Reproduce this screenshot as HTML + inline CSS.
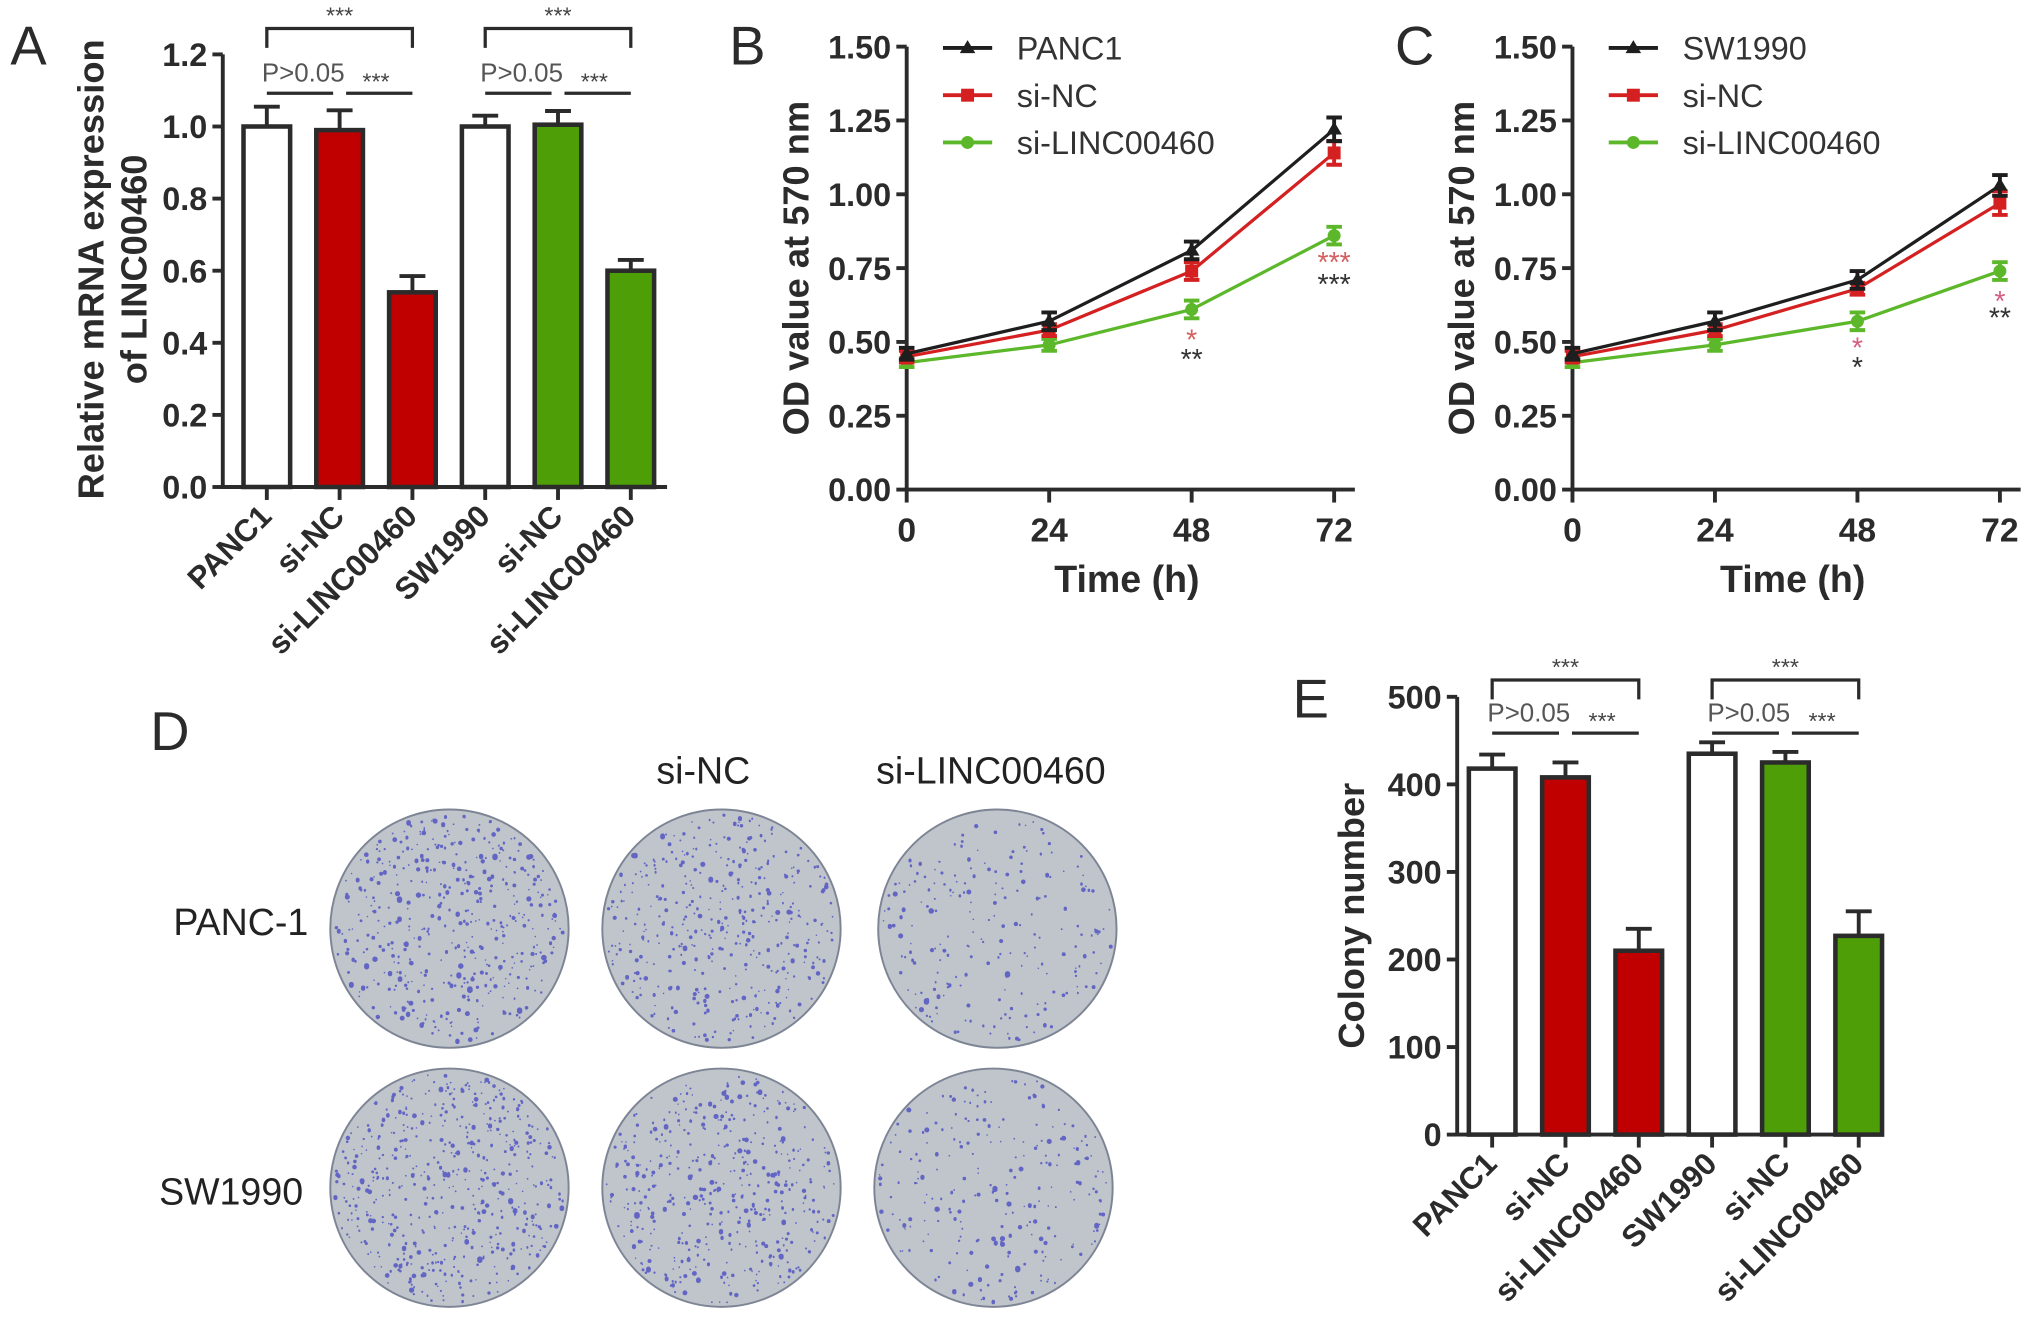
<!DOCTYPE html>
<html><head><meta charset="utf-8"><style>
html,body{margin:0;padding:0;background:#fff}
svg{display:block}
text{font-family:"Liberation Sans",Arial,sans-serif}
</style></head><body>
<svg id="fig" width="2031" height="1336" viewBox="0 0 1568 1031.5" preserveAspectRatio="none" xmlns="http://www.w3.org/2000/svg">
<g id="pA"></g>
<g id="pB"></g>
<g id="pC"></g>
<g id="pD"></g>
<g id="pE"></g>
</svg>
<script>
// ---- data ----
const barCats = ["PANC1","si-NC","si-LINC00460","SW1990","si-NC","si-LINC00460"];
const barFills = ["#ffffff","#c00000","#c00000","#ffffff","#4e9e08","#4e9e08"];
const aValues = [1.0, 0.99, 0.54, 1.0, 1.005, 0.60];
const aErrors = [0.055, 0.055, 0.045, 0.03, 0.038, 0.03];
const aTicks = [0, 0.2, 0.4, 0.6, 0.8, 1.0, 1.2];
const aTickLabels = ["0.0","0.2","0.4","0.6","0.8","1.0","1.2"];
const eValues = [418, 408, 210, 435, 425, 227];
const eErrors = [16, 17, 25, 13, 12, 28];
const eTicks = [0, 100, 200, 300, 400, 500];
const eTickLabels = ["0","100","200","300","400","500"];
const times = [0, 24, 48, 72];
const odTicks = [0, 0.25, 0.5, 0.75, 1.0, 1.25, 1.5];
const odTickLabels = ["0.00","0.25","0.50","0.75","1.00","1.25","1.50"];
const bPanc1 = [0.46, 0.57, 0.81, 1.22];
const bPanc1Err = [0.02, 0.03, 0.03, 0.04];
const bSiNC = [0.45, 0.54, 0.74, 1.14];
const bSiNCErr = [0.02, 0.02, 0.03, 0.04];
const bSiLinc = [0.43, 0.49, 0.61, 0.86];
const bSiLincErr = [0.015, 0.02, 0.03, 0.03];
const cSw1990 = [0.46, 0.57, 0.71, 1.03];
const cSw1990Err = [0.02, 0.03, 0.03, 0.035];
const cSiNC = [0.45, 0.54, 0.68, 0.97];
const cSiNCErr = [0.02, 0.02, 0.02, 0.04];
const cSiLinc = [0.43, 0.49, 0.57, 0.74];
const cSiLincErr = [0.015, 0.02, 0.03, 0.03];

const NS="http://www.w3.org/2000/svg";
const DK="#2b2b2b";
function mk(parent,tag,attrs,txt){const e=document.createElementNS(NS,tag);for(const k in attrs)e.setAttribute(k,attrs[k]);if(txt!==undefined)e.textContent=txt;parent.appendChild(e);return e;}
function scale(d0,d1,r0,r1){return v=>r0+(v-d0)/(d1-d0)*(r1-r0);}

function barChart(g,cfg){
  const y=scale(cfg.ymin,cfg.ymax,cfg.y0,cfg.y1);
  const x=i=>cfg.xc0+i*cfg.step;
  const ya=mk(g,'line',{x1:cfg.ax,y1:y(cfg.ymax),x2:cfg.ax,y2:cfg.y0+1.5,stroke:DK,'stroke-width':3});
  
  cfg.ticks.forEach((t,i)=>{
    mk(g,'line',{x1:cfg.ax-8,y1:y(t),x2:cfg.ax,y2:y(t),stroke:DK,'stroke-width':3});
    const tl=mk(g,'text',{x:cfg.ax-12,y:y(t)+9,'text-anchor':'end','font-size':25,'font-weight':'bold',fill:DK},cfg.labels[i]);
    
  });
  const xa=mk(g,'line',{x1:cfg.ax-1.5,y1:cfg.y0,x2:cfg.axEnd,y2:cfg.y0,stroke:DK,'stroke-width':3});
  
  cfg.values.forEach((v,i)=>{
    const cx=x(i),top=y(v),et=y(v+cfg.errors[i]);
    mk(g,'line',{x1:cx,y1:top,x2:cx,y2:et,stroke:DK,'stroke-width':3});
    mk(g,'line',{x1:cx-10,y1:et,x2:cx+10,y2:et,stroke:DK,'stroke-width':3});
    const r=mk(g,'rect',{x:cx-cfg.bw/2,y:top,width:cfg.bw,height:cfg.y0-top,fill:barFills[i],stroke:DK,'stroke-width':3.5});
    
    mk(g,'line',{x1:cx,y1:cfg.y0,x2:cx,y2:cfg.y0+10,stroke:DK,'stroke-width':3});
    const lx=cx+5,ly=cfg.y0+24;
    const tl=mk(g,'text',{x:lx,y:ly,'text-anchor':'end','font-size':24,'font-weight':'bold',fill:DK,transform:`rotate(-45 ${lx} ${ly})`},barCats[i]);
    
  });
  [0,3].forEach(s=>{
    const a=x(s),b=x(s+1),c=x(s+2);
    mk(g,'path',{d:`M${a} ${cfg.brTop+15}V${cfg.brTop}H${c}V${cfg.brTop+15}`,fill:'none',stroke:DK,'stroke-width':2.5});
    mk(g,'text',{x:(a+c)/2,y:cfg.brTop-4,'text-anchor':'middle','font-size':18,fill:'#444'},'***');
    mk(g,'line',{x1:a,y1:cfg.brLow,x2:b-5,y2:cfg.brLow,stroke:DK,'stroke-width':2.5});
    mk(g,'line',{x1:b+5,y1:cfg.brLow,x2:c,y2:cfg.brLow,stroke:DK,'stroke-width':2.5});
    const p=mk(g,'text',{x:(a+b)/2,y:cfg.brLow-9,'text-anchor':'middle','font-size':20,fill:'#555'},'P>0.05');
    
    mk(g,'text',{x:(b+c)/2,y:cfg.brLow-3,'text-anchor':'middle','font-size':18,fill:'#444'},'***');
  });
}

barChart(document.getElementById('pA'),{ymin:0,ymax:1.2,y0:376,y1:42,ax:172,axEnd:515,xc0:206,step:56.2,bw:36,
  values:aValues,errors:aErrors,ticks:aTicks,labels:aTickLabels,brTop:22,brLow:72});
barChart(document.getElementById('pE'),{ymin:0,ymax:500,y0:876,y1:538,ax:1125,axEnd:1450,xc0:1152,step:56.6,bw:36,
  values:eValues,errors:eErrors,ticks:eTicks,labels:eTickLabels,brTop:525,brLow:566});

(function(){
  const gA=document.getElementById('pA');
  let t=mk(gA,'text',{x:8,y:50,'font-size':42,fill:DK},'A');
  t=mk(gA,'text',{x:0,y:0,'text-anchor':'middle','font-size':28,'font-weight':'bold',fill:DK,transform:'translate(80 208) rotate(-90)'},'Relative mRNA expression');
  
  t=mk(gA,'text',{x:0,y:0,'text-anchor':'middle','font-size':28,'font-weight':'bold',fill:DK,transform:'translate(113 208) rotate(-90)'},'of LINC00460');
  
  const gE=document.getElementById('pE');
  t=mk(gE,'text',{x:998,y:554,'font-size':42,fill:DK},'E');
  t=mk(gE,'text',{x:0,y:0,'text-anchor':'middle','font-size':28,'font-weight':'bold',fill:DK,transform:'translate(1053 707) rotate(-90)'},'Colony number');
  
})();

function lineChart(g,cfg){
  const y=scale(0,1.5,378,36);
  const x=scale(0,72,cfg.ax,cfg.ax+330);
  mk(g,'line',{x1:cfg.ax,y1:36,x2:cfg.ax,y2:379.5,stroke:DK,'stroke-width':3});
  odTicks.forEach((t,i)=>{
    mk(g,'line',{x1:cfg.ax-8,y1:y(t),x2:cfg.ax,y2:y(t),stroke:DK,'stroke-width':3});
    const tl=mk(g,'text',{x:cfg.ax-12,y:y(t)+9,'text-anchor':'end','font-size':25,'font-weight':'bold',fill:DK},odTickLabels[i]);
    
  });
  mk(g,'line',{x1:cfg.ax-1.5,y1:378,x2:cfg.ax+346,y2:378,stroke:DK,'stroke-width':3});
  times.forEach(tm=>{
    mk(g,'line',{x1:x(tm),y1:378,x2:x(tm),y2:388,stroke:DK,'stroke-width':3});
    const tl=mk(g,'text',{x:x(tm),y:418,'text-anchor':'middle','font-size':26,'font-weight':'bold',fill:DK},String(tm));
    
  });
  let t=mk(g,'text',{x:cfg.ax+170,y:457,'text-anchor':'middle','font-size':29,'font-weight':'bold',fill:DK},'Time (h)');
  
  t=mk(g,'text',{x:0,y:0,'text-anchor':'middle','font-size':28,'font-weight':'bold',fill:DK,transform:`translate(${cfg.ax-76} 207) rotate(-90)`},'OD value at 570 nm');
  
  t=mk(g,'text',{x:cfg.ax-137,y:50,'font-size':42,fill:DK},cfg.letter);
  
  const series=[
    {v:cfg.s[2],e:cfg.e[2],c:'#5cb82a',m:'circle',name:'si-LINC00460'},
    {v:cfg.s[1],e:cfg.e[1],c:'#d42020',m:'square',name:'si-NC'},
    {v:cfg.s[0],e:cfg.e[0],c:'#1e1e1e',m:'tri',name:cfg.first}];
  function marker(p,m,cx,cy,c){
    if(m==='circle')mk(p,'circle',{cx,cy,r:5,fill:c});
    else if(m==='square')mk(p,'rect',{x:cx-5,y:cy-5,width:10,height:10,fill:c});
    else mk(p,'path',{d:`M${cx} ${cy-6}L${cx+6} ${cy+4}L${cx-6} ${cy+4}Z`,fill:c});
  }
  series.forEach(s=>{
    const sg=mk(g,'g',{});
    
    mk(sg,'polyline',{points:s.v.map((v,i)=>x(times[i])+','+y(v)).join(' '),fill:'none',stroke:s.c,'stroke-width':2.5});
    s.v.forEach((v,i)=>{
      const cx=x(times[i]),hi=y(v+s.e[i]),lo=y(v-s.e[i]);
      mk(sg,'path',{d:`M${cx} ${hi}V${lo}M${cx-6} ${hi}H${cx+6}M${cx-6} ${lo}H${cx+6}`,stroke:s.c,'stroke-width':3,fill:'none'});
      marker(sg,s.m,cx,y(v),s.c);
    });
  });
  const names=[cfg.first,'si-NC','si-LINC00460'],cols=['#1e1e1e','#d42020','#5cb82a'],ms=['tri','square','circle'];
  names.forEach((n,i)=>{
    const ly=37+i*36.5;
    const lg=mk(g,'g',{});
    
    mk(lg,'line',{x1:cfg.ax+28,y1:ly,x2:cfg.ax+66,y2:ly,stroke:cols[i],'stroke-width':3});
    marker(lg,ms[i],cfg.ax+47,ly,cols[i]);
    mk(lg,'text',{x:cfg.ax+85,y:ly+9,'font-size':25,fill:'#333'},n);
  });
  cfg.stars.forEach(st=>{
    mk(g,'text',{x:x(st[0]),y:st[1],'text-anchor':'middle','font-size':22,fill:st[2]},st[3]);
  });
}
lineChart(document.getElementById('pB'),{ax:700,letter:'B',first:'PANC1',s:[bPanc1,bSiNC,bSiLinc],e:[bPanc1Err,bSiNCErr,bSiLincErr],
  stars:[[48,270,'#d46060','*'],[48,285,'#333','**'],[72,210,'#d46060','***'],[72,227,'#333','***']]});
lineChart(document.getElementById('pC'),{ax:1214,letter:'C',first:'SW1990',s:[cSw1990,cSiNC,cSiLinc],e:[cSw1990Err,cSiNCErr,cSiLincErr],
  stars:[[48,276,'#d46080','*'],[48,291,'#333','*'],[72,240,'#d46080','*'],[72,253,'#333','**']]});

(function(){
  const g=document.getElementById('pD');
  let t=mk(g,'text',{x:116,y:579,'font-size':42,fill:DK},'D');
  t=mk(g,'text',{x:543,y:605,'text-anchor':'middle','font-size':29,fill:'#222'},'si-NC');
  t=mk(g,'text',{x:765,y:605,'text-anchor':'middle','font-size':29,fill:'#222'},'si-LINC00460');
  t=mk(g,'text',{x:238,y:722,'text-anchor':'end','font-size':29,fill:'#222'},'PANC-1');
  t=mk(g,'text',{x:234,y:930,'text-anchor':'end','font-size':29,fill:'#222'},'SW1990');
  const dishes=[[347,717,480],[557,717,420],[770,717,220],[347,917,520],[557,917,460],[767,917,240]];
  let seed=7;const rnd=()=>{seed=(seed*16807)%2147483647;return seed/2147483647;};
  dishes.forEach((d,k)=>{
    const dg=mk(g,'g',{});
    
    mk(dg,'circle',{cx:d[0],cy:d[1],r:92,fill:'#bfc5cb',stroke:'#7d8494','stroke-width':1.5});
    let p='';
    for(let i=0;i<d[2];i++){
      const a=rnd()*Math.PI*2,rr=Math.sqrt(rnd())*89;
      const px=d[0]+Math.cos(a)*rr,py=d[1]+Math.sin(a)*rr,s=0.6+rnd()*rnd()*1.6;
      p+=`M${(px-s).toFixed(1)} ${py.toFixed(1)}a${s.toFixed(1)} ${s.toFixed(1)} 0 1 0 ${(2*s).toFixed(1)} 0a${s.toFixed(1)} ${s.toFixed(1)} 0 1 0 ${(-2*s).toFixed(1)} 0`;
    }
    mk(dg,'path',{d:p,fill:'#3c3cc0','fill-opacity':0.7});
  });
})();
</script>
</body></html>
